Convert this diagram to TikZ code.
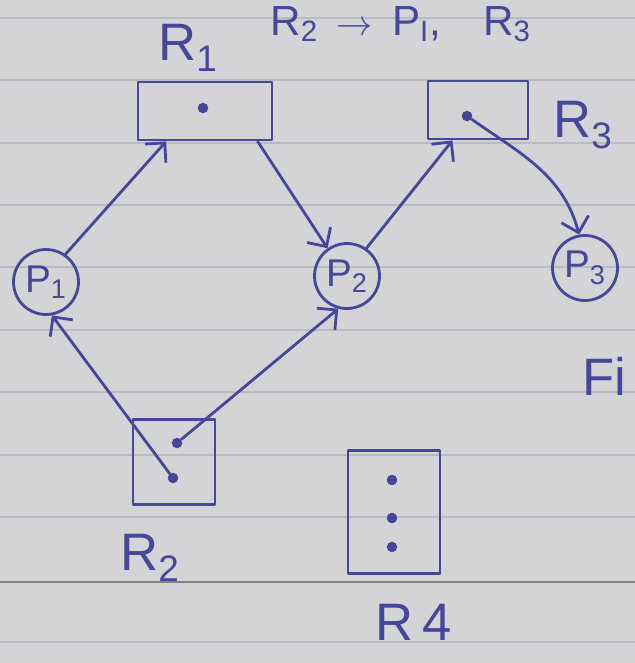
\documentclass[tikz,border=0pt]{standalone}
\usepackage{fontspec}
\setmainfont{Liberation Sans}
\usetikzlibrary{arrows.meta}
\definecolor{paper}{HTML}{D4D4D7}
\definecolor{ruling}{HTML}{BABAC2}
\definecolor{ink}{HTML}{46469A}

\begin{document}
\begin{tikzpicture}[x=0.02cm,y=-0.02cm,
  pen/.style={draw=ink, line width=1.6pt, line cap=round, line join=round},
  proc/.style={pen, circle, minimum size=1.3cm, inner sep=0pt, text=ink,
    font=\fontsize{22}{22}\selectfont},
  res/.style={pen, rectangle, inner sep=0pt},
  tok/.style={circle, fill=ink, inner sep=0pt, minimum size=6pt},
  lbl/.style={text=ink, font=\fontsize{30}{30}\selectfont},
  edge/.style={pen, -{Straight Barb[length=8pt,width=16pt,line width=1.6pt]}}]

% sheet of ruled paper
\useasboundingbox (0,0) rectangle (635,663);
\clip (0,0) rectangle (635,663);
\fill[paper] (0,0) rectangle (635,663);
\foreach \y in {18,80,143,205,267,330,392,455,517,642}
  \draw[ruling, line width=0.8pt] (0,\y) -- (635,\y);
\draw[black!50, line width=1pt] (0,582) -- (635,582);

% note at the top of the page
\node[lbl, font=\fontsize{24}{24}\selectfont, anchor=base west, inner sep=0pt] (note) at (270,35)
  {R\textsubscript{2}\ \,{\fontsize{20}{20}\selectfont$\to$}\ \,P\textsubscript{I},\quad R\textsubscript{3}};
\node[lbl, anchor=base west, inner sep=0pt] (fig) at (582,395) {Fi};

% resources
\node[res, minimum width=134*0.02cm, minimum height=58*0.02cm] (r1) at (205,111) {};
\node[tok] (r1a) at (203,108) {};
\node[lbl] (r1l) at (188,48) {R\textsubscript{1}};

\node[res, minimum width=100*0.02cm, minimum height=58*0.02cm] (r3) at (478,110) {};
\node[tok] (r3a) at (467,116) {};
\node[lbl] (r3l) at (583,125) {R\textsubscript{3}};

\node[res, minimum width=82*0.02cm, minimum height=85*0.02cm] (r2) at (174,462) {};
\node[tok] (r2a) at (177,443) {};
\node[tok] (r2b) at (173,478) {};
\node[lbl] (r2l) at (150,558) {R\textsubscript{2}};

\node[res, minimum width=92*0.02cm, minimum height=123*0.02cm] (r4) at (394,512) {};
\node[tok] (r4a) at (392,480) {};
\node[tok] (r4b) at (392,518) {};
\node[tok] (r4c) at (392,547) {};
\node[lbl] (r4l) at (414,622) {R\,4};

% processes
\node[proc] (p1) at (46,282) {P\textsubscript{1}};
\node[proc] (p2) at (347,276) {P\textsubscript{2}};
\node[proc] (p3) at (585,268) {P\textsubscript{3}};

% request and assignment edges
\draw[edge] (p1.55) -- (r1.-142);
\draw[edge] (r1.-30) -- (p2.125);
\draw[edge] (p2.55) -- (r3.-130);
\draw[edge] (r3a) to[out=-35, in=105] (p3.100);
\draw[edge] (r2b) -- (p1.-80);
\draw[edge] (r2a) -- (p2.-105);
\end{tikzpicture}
\end{document}
